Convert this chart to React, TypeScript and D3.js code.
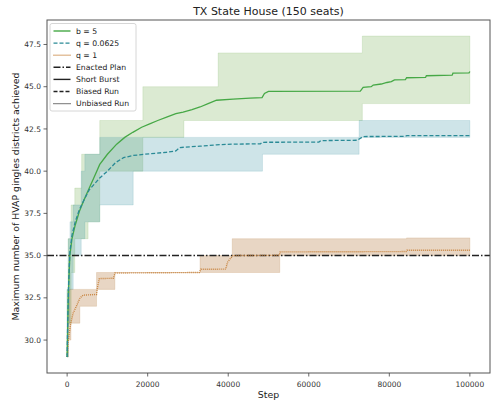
import React from "react";
import * as d3 from "d3";

const W = 492;
const H = 403;

// Mean curves: [step, value]
const b5Mean: [number, number][] = [
  [0, 29.0], [150, 31.0], [350, 33.0], [670, 35.0], [1200, 36.0], [2000, 36.8],
  [3000, 37.6], [4200, 38.3], [5500, 39.0], [7000, 39.8], [8100, 40.4], [10000, 41.0],
  [12300, 41.6], [14300, 42.0], [16300, 42.3], [18500, 42.6], [20500, 42.8], [22500, 43.0],
  [24700, 43.2], [27000, 43.4], [28800, 43.5], [31000, 43.65], [33000, 43.8], [35000, 44.0],
  [37100, 44.2], [41200, 44.27], [45400, 44.33], [48400, 44.35], [49000, 44.6], [50000, 44.72],
  [72800, 44.74], [73500, 44.96], [75500, 45.0], [76000, 45.1], [78000, 45.16], [79400, 45.25],
  [80500, 45.3], [81300, 45.4], [84000, 45.42], [84300, 45.53], [89000, 45.55], [89200, 45.65],
  [95600, 45.68], [95800, 45.8], [99800, 45.82], [100000, 45.9],
];
const q0625Mean: [number, number][] = [
  [0, 29.0], [150, 31.2], [350, 33.2], [670, 35.2], [1200, 36.2], [2000, 37.0],
  [3000, 37.7], [4200, 38.3], [5500, 38.9], [7000, 39.3], [8100, 39.6], [10000, 40.0],
  [12000, 40.5], [14000, 40.8], [16400, 40.93], [20500, 41.03], [24700, 41.12], [27000, 41.2],
  [28000, 41.4], [33000, 41.48], [37100, 41.56], [41200, 41.6], [48000, 41.62], [48500, 41.71],
  [62500, 41.72], [63000, 41.81], [72000, 41.83], [73500, 42.05], [84000, 42.06], [84300, 42.1],
  [100000, 42.1],
];
const q1Mean: [number, number][] = [
  [0, 29.0], [200, 29.8], [600, 30.5], [900, 31.0], [1500, 31.6], [2300, 32.0],
  [3200, 32.5], [4000, 32.66], [7300, 32.7], [7600, 33.2], [8000, 33.64], [11500, 33.66],
  [11900, 33.97], [32800, 34.0], [33200, 34.19], [39400, 34.2], [39800, 34.6], [40600, 34.85],
  [41200, 35.0], [52700, 35.02], [52900, 35.22], [84200, 35.24], [84400, 35.32], [100000, 35.32],
];

// Bands: [step, low, high]
const b5Band: [number, number, number][] = [
  [0, 29, 33], [250, 31, 36], [1000, 34, 38], [1900, 36, 39], [3600, 36, 41], [5200, 37, 41],
  [8100, 40, 43], [18800, 42, 45], [29000, 43, 45], [37500, 43, 47], [73300, 44, 48], [100000, 44, 48],
];
const q0625Band: [number, number, number][] = [
  [0, 29, 33], [300, 31, 36], [700, 33, 37], [1500, 35, 38], [3500, 36, 40], [4400, 37, 41],
  [8100, 38, 42], [16400, 40, 42], [48500, 41, 42], [72500, 42, 43], [100000, 42, 43],
];
const q1Band: [number, number, number][] = [
  [0, 29, 30], [300, 30, 33], [950, 31, 33], [3150, 32, 33], [7300, 33, 34], [11850, 34, 34],
  [33000, 34, 35], [41000, 34, 36], [52800, 35, 36], [84300, 35, 36.05], [100000, 35, 36.05],
];

const enactedValue = 35;
const xTicks = [0, 20000, 40000, 60000, 80000, 100000];
const yTicks = [30, 32.5, 35, 37.5, 40, 42.5, 45, 47.5];

const legendItems = [
  { label: "b = 5", color: "#46a846", dash: "none" },
  { label: "q = 0.0625", color: "#2a8a96", dash: "4,2" },
  { label: "q = 1", color: "#c8843f", dash: "1,1" },
  { label: "Enacted Plan", color: "#222", dash: "7,2,1.5,2" },
  { label: "Short Burst", color: "#222", dash: "none" },
  { label: "Biased Run", color: "#222", dash: "4,2" },
  { label: "Unbiased Run", color: "#222", dash: "1,1" },
];

const FONT = "'DejaVu Sans', sans-serif";

export default function App() {
  const left = 47, right = 490, top = 20, bottom = 373;
  const x = d3.scaleLinear().domain([-5000, 105000]).range([left, right]);
  const y = d3.scaleLinear().domain([28.05, 48.95]).range([bottom, top]);

  const line = d3
    .line<[number, number]>()
    .x((d) => x(d[0]))
    .y((d) => y(d[1]));
  const area = d3
    .area<[number, number, number]>()
    .x((d) => x(d[0]))
    .y0((d) => y(d[1]))
    .y1((d) => y(d[2]))
    .curve(d3.curveStepAfter);

  const bands = [
    { data: b5Band, fill: "#5aa032", op: 0.22 },
    { data: q0625Band, fill: "#2a8a9a", op: 0.23 },
    { data: q1Band, fill: "#b4783c", op: 0.3 },
  ];

  return (
    <svg width={W} height={H} style={{ display: "block", position: "absolute", left: 0, top: 0 }} fontFamily={FONT}>
      <defs>
        <clipPath id="plotclip">
          <rect x={left} y={top} width={right - left} height={bottom - top} />
        </clipPath>
      </defs>
      <rect x={0} y={0} width={W} height={H} fill="#fff" />
      <g clipPath="url(#plotclip)">
        {bands.map((b, i) => (
          <path key={i} d={area(b.data) || ""} fill={b.fill} fillOpacity={b.op} stroke={b.fill} strokeOpacity={b.op * 0.8} strokeWidth={0.8} />
        ))}
        <line x1={left} x2={right} y1={y(enactedValue)} y2={y(enactedValue)} stroke="#222" strokeWidth={1.5} strokeDasharray="7,2,1.5,2" />
        <path d={line(q1Mean) || ""} fill="none" stroke="#c8843f" strokeWidth={1.4} strokeDasharray="1,1" />
        <path d={line(b5Mean) || ""} fill="none" stroke="#46a846" strokeWidth={1.3} />
        <path d={line(q0625Mean) || ""} fill="none" stroke="#2a8a96" strokeWidth={1.3} strokeDasharray="4,2" />
      </g>
      {/* spines */}
      <rect x={left} y={top} width={right - left} height={bottom - top} fill="none" stroke="#555" strokeWidth={1} />
      {/* x ticks */}
      {xTicks.map((t) => (
        <g key={t}>
          <line x1={x(t)} x2={x(t)} y1={bottom} y2={bottom + 3.5} stroke="#444" strokeWidth={0.8} />
          <text x={x(t)} y={bottom + 14} textAnchor="middle" fontSize={7.5} fill="#333">{t}</text>
        </g>
      ))}
      {yTicks.map((t) => (
        <g key={t}>
          <line x1={left - 3.5} x2={left} y1={y(t)} y2={y(t)} stroke="#444" strokeWidth={0.8} />
          <text x={left - 6} y={y(t)} dy="0.35em" textAnchor="end" fontSize={7.5} fill="#333">{t.toFixed(1)}</text>
        </g>
      ))}
      <text x={(left + right) / 2} y={15} textAnchor="middle" fontSize={11} fill="#222">TX State House (150 seats)</text>
      <text x={(left + right) / 2} y={398} textAnchor="middle" fontSize={9.4} fill="#222">Step</text>
      <text transform={`translate(18.5, ${(top + bottom) / 2}) rotate(-90)`} textAnchor="middle" fontSize={9.4} fill="#222">
        Maximum number of HVAP gingles districts achieved
      </text>
      {/* legend */}
      <g>
        <rect x={50} y={23.5} width={86} height={87.5} rx={2} fill="#fff" fillOpacity={0.8} stroke="#ccc" strokeWidth={0.8} />
        {legendItems.map((it, i) => {
          const yy = 31 + i * 12.1;
          return (
            <g key={it.label}>
              <line x1={53.5} x2={70.5} y1={yy} y2={yy} stroke={it.color} strokeWidth={1.4} strokeDasharray={it.dash} />
              <text x={76} y={yy} dy="0.35em" fontSize={7.7} fill="#222">{it.label}</text>
            </g>
          );
        })}
      </g>
    </svg>
  );
}
